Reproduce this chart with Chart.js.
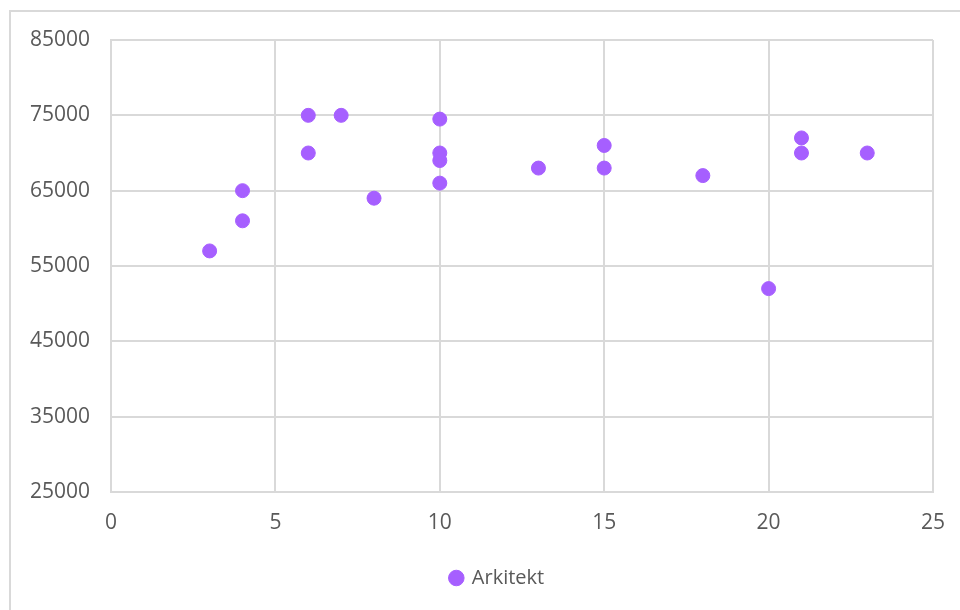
<!DOCTYPE html>
<html>
<head>
<meta charset="utf-8">
<script src="https://cdn.jsdelivr.net/npm/chart.js@4/dist/chart.umd.min.js"></script>
<style>
  html, body { margin: 0; padding: 0; background: #fff; }
  #wrap { position: relative; width: 960px; height: 610px; }
</style>
</head>
<body>
<div id="wrap"><canvas id="chart" width="960" height="610"></canvas></div>
<script>
"use strict";
// years of experience vs salary
const seriesName = 'Arkitekt';
const xValues = [3, 4, 4, 6, 6, 7, 8, 10, 10, 10, 10, 13, 15, 15, 18, 20, 21, 21, 23];
const yValues = [57000, 65000, 61000, 75000, 70000, 75000, 64000, 74500, 70000, 69000, 66000, 68000, 71000, 68000, 67000, 52000, 72000, 70000, 70000];
const xTicks = [0, 5, 10, 15, 20, 25];
const yTicks = [25000, 35000, 45000, 55000, 65000, 75000, 85000];

const purple = '#a65fff';
const gridColor = '#d9d9d9';
const textColor = '#595959';
const fontFamily = '"Open Sans", "Liberation Sans", sans-serif';

let points = xValues.map((x, i) => ({ x: x, y: yValues[i] }));

// outer frame (only top and left edges are visible in the source)
const framePlugin = {
    id: 'frame',
    afterLayout(chart) {
        // legend sits a bit right of the canvas centre in the source
        if (chart.legend) {
            chart.legend.left += 31;
            chart.legend.right += 31;
        }
    },
    beforeDraw(chart) {
        let ctx = chart.ctx;
        ctx.save();
        ctx.strokeStyle = gridColor;
        ctx.lineWidth = 2;
        ctx.beginPath();
        ctx.moveTo(10, 610);
        ctx.lineTo(10, 11);
        ctx.lineTo(960, 11);
        ctx.stroke();
        ctx.restore();
    }
};

let ctx = document.getElementById('chart').getContext('2d');
new Chart(ctx, {
    type: 'scatter',
    data: {
        datasets: [{
            label: seriesName,
            data: points,
            backgroundColor: purple,
            borderColor: purple,
            pointRadius: 7,
            pointHoverRadius: 7
        }]
    },
    options: {
        responsive: false,
        animation: false,
        layout: { padding: { top: 40, right: 27, left: 0, bottom: 12 } },
        plugins: {
            tooltip: { enabled: false },
            legend: {
                position: 'bottom',
                labels: {
                    usePointStyle: true,
                    pointStyle: 'circle',
                    boxWidth: 11,
                    boxHeight: 11,
                    padding: 14,
                    color: textColor,
                    font: { family: fontFamily, size: 20 }
                }
            }
        },
        scales: {
            x: {
                type: 'linear',
                min: 0,
                max: 25,
                afterBuildTicks: axis => { axis.ticks = xTicks.map(v => ({ value: v })); },
                afterFit: axis => {
                    axis.height = 62;
                    axis.paddingLeft = 0;
                    axis.paddingRight = 0;
                },
                grid: { color: gridColor, lineWidth: 2, drawTicks: false },
                border: { color: gridColor, width: 2 },
                ticks: {
                    padding: 18,
                    color: textColor,
                    font: { family: fontFamily, size: 21 }
                }
            },
            y: {
                type: 'linear',
                min: 25000,
                max: 85000,
                afterBuildTicks: axis => { axis.ticks = yTicks.map(v => ({ value: v })); },
                afterFit: axis => { axis.width = 111; },
                grid: { color: gridColor, lineWidth: 2, drawTicks: false },
                border: { color: gridColor, width: 2 },
                ticks: {
                    padding: 21,
                    color: textColor,
                    font: { family: fontFamily, size: 21 },
                    callback: v => String(v)
                }
            }
        }
    },
    plugins: [framePlugin]
});
</script>
</body>
</html>
